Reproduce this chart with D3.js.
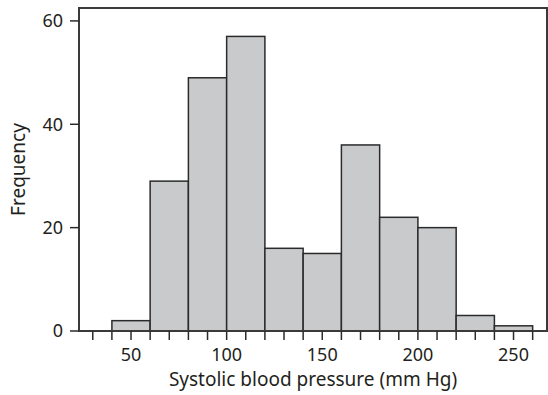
<!DOCTYPE html>
<html>
<head>
<meta charset="utf-8">
<script src="https://cdn.jsdelivr.net/npm/d3@7"></script>
<style>
  body { margin: 0; background: #fff; }
  text { font-family: "Noto Sans", "Open Sans", sans-serif; fill: #231f20; }
</style>
</head>
<body>
<div id="chart"></div>
<script>
// bin edges (mm Hg) and counts
var binStarts = [40, 60, 80, 100, 120, 140, 160, 180, 200, 220, 240];
var binWidth = 20;
var counts = [2, 29, 49, 57, 16, 15, 36, 22, 20, 3, 1];
var xTicks = [50, 100, 150, 200, 250];
var xMinorTicks = d3.range(30, 261, 10);
var yTicks = [0, 20, 40, 60];

var WIDTH = 548, HEIGHT = 395;
var plotLeft = 79, plotRight = 547, plotTop = 8, plotBottom = 331;

var svg = d3.select("#chart").append("svg")
    .attr("width", WIDTH)
    .attr("height", HEIGHT);

var x = d3.scaleLinear().domain([22.8, 267.5]).range([plotLeft, plotRight]);
var y = d3.scaleLinear().domain([0, 62.5]).range([plotBottom, plotTop]);

// bars
svg.append("g").selectAll("rect")
    .data(binStarts)
    .enter().append("rect")
    .attr("x", function (d) { return x(d); })
    .attr("y", function (d, i) { return y(counts[i]); })
    .attr("width", function (d) { return x(d + binWidth) - x(d); })
    .attr("height", function (d, i) { return y(0) - y(counts[i]); })
    .attr("fill", "#c9cacc")
    .attr("stroke", "#2b2b2b")
    .attr("stroke-width", 1.5);

// frame
svg.append("rect")
    .attr("x", plotLeft).attr("y", plotTop)
    .attr("width", plotRight - plotLeft).attr("height", plotBottom - plotTop)
    .attr("fill", "none")
    .attr("stroke", "#3a3a3a")
    .attr("stroke-width", 2);

// x axis: minor ticks + labelled ticks
var xAxis = svg.append("g").attr("transform", "translate(0," + plotBottom + ")");
xAxis.selectAll("line")
    .data(xMinorTicks)
    .enter().append("line")
    .attr("x1", function (d) { return x(d); })
    .attr("x2", function (d) { return x(d); })
    .attr("y1", 0).attr("y2", 9)
    .attr("stroke", "#2b2b2b")
    .attr("stroke-width", 1.5);
xAxis.selectAll("text")
    .data(xTicks)
    .enter().append("text")
    .attr("x", function (d) { return x(d); })
    .attr("y", 30)
    .attr("text-anchor", "middle")
    .attr("font-size", 18)
    .text(function (d) { return d; });

// y axis
var yAxis = svg.append("g").attr("transform", "translate(" + plotLeft + ",0)");
yAxis.selectAll("line")
    .data(yTicks)
    .enter().append("line")
    .attr("x1", -9).attr("x2", 0)
    .attr("y1", function (d) { return y(d); })
    .attr("y2", function (d) { return y(d); })
    .attr("stroke", "#2b2b2b")
    .attr("stroke-width", 1.5);
yAxis.selectAll("text")
    .data(yTicks)
    .enter().append("text")
    .attr("x", -16)
    .attr("y", function (d) { return y(d); })
    .attr("dy", "0.35em")
    .attr("text-anchor", "end")
    .attr("font-size", 18)
    .text(function (d) { return d; });

// axis titles
svg.append("text")
    .attr("x", (plotLeft + plotRight) / 2)
    .attr("y", 386)
    .attr("text-anchor", "middle")
    .attr("font-size", 19)
    .text("Systolic blood pressure (mm Hg)");

svg.append("text")
    .attr("transform", "translate(25," + ((plotTop + plotBottom) / 2) + ") rotate(-90)")
    .attr("text-anchor", "middle")
    .attr("font-size", 19)
    .text("Frequency");
</script>
</body>
</html>
